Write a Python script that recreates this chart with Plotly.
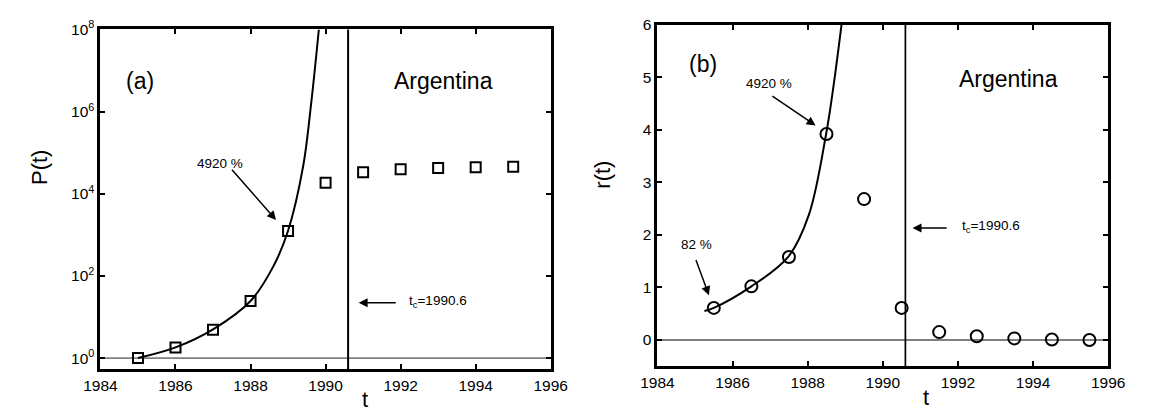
import plotly.graph_objects as go

# ---------------- data ----------------
p_years = [1985, 1986, 1987, 1988, 1989, 1990, 1991, 1992, 1993, 1994, 1995]
p_values = [1.0, 1.82, 4.9, 24.5, 1250, 18500, 33500, 39500, 42500, 44500, 45500]

# fitted curve for panel (a) (log10 P)
pfit_years = [1985.0, 1986.0, 1987.0, 1988.0, 1988.6, 1989.0, 1989.4, 1989.62, 1989.82]
pfit_log = [0.0, 0.26, 0.70, 1.39, 2.22, 3.10, 4.66, 6.24, 8.0]

r_years = [1985.5, 1986.5, 1987.5, 1988.5, 1989.5, 1990.5, 1991.5, 1992.5, 1993.5, 1994.5, 1995.5]
r_values = [0.61, 1.02, 1.58, 3.92, 2.68, 0.61, 0.15, 0.07, 0.03, 0.01, 0.0]

# fitted curve for panel (b)
rfit_years = [1985.25, 1985.5, 1986.5, 1987.48, 1988.03, 1988.49, 1988.69, 1988.9]
rfit_values = [0.55, 0.61, 1.02, 1.58, 2.38, 3.92, 4.85, 6.0]

t_c = 1990.6
x_ticks = [1984, 1986, 1988, 1990, 1992, 1994, 1996]
p_tickvals = [1, 1e2, 1e4, 1e6, 1e8]
p_ticktext = ["10<sup>0</sup>", "10<sup>2</sup>", "10<sup>4</sup>", "10<sup>6</sup>", "10<sup>8</sup>"]
r_ticks = [0, 1, 2, 3, 4, 5, 6]

# ---------------- figure ----------------
FONT = "Liberation Sans, Arial, sans-serif"
W, H = 1149, 412

fig = go.Figure()

# panel (a)
fig.add_trace(go.Scatter(x=[1984, 1996], y=[1, 1], mode="lines",
                         line=dict(color="#808080", width=1.8),
                         xaxis="x", yaxis="y", showlegend=False))
fig.add_trace(go.Scatter(x=pfit_years, y=[10 ** v for v in pfit_log], mode="lines",
                         line=dict(color="black", width=2, shape="spline", smoothing=1.0),
                         xaxis="x", yaxis="y", showlegend=False))
fig.add_trace(go.Scatter(x=p_years, y=p_values, mode="markers",
                         marker=dict(symbol="square-open", size=10, color="black",
                                     line=dict(width=2, color="black")),
                         xaxis="x", yaxis="y", showlegend=False))

# panel (b)
fig.add_trace(go.Scatter(x=[1984, 1996], y=[0, 0], mode="lines",
                         line=dict(color="black", width=1.2),
                         xaxis="x2", yaxis="y2", showlegend=False))
fig.add_trace(go.Scatter(x=rfit_years, y=rfit_values, mode="lines",
                         line=dict(color="black", width=2, shape="spline", smoothing=1.0),
                         xaxis="x2", yaxis="y2", showlegend=False))
fig.add_trace(go.Scatter(x=r_years, y=r_values, mode="markers",
                         marker=dict(symbol="circle-open", size=12, color="black",
                                     line=dict(width=2, color="black")),
                         xaxis="x2", yaxis="y2", showlegend=False))

# vertical lines at t_c
fig.add_shape(type="line", xref="x", yref="paper", x0=t_c, x1=t_c,
              y0=1 - 368 / H, y1=1 - 19 / H, line=dict(color="black", width=2))
fig.add_shape(type="line", xref="x2", yref="paper", x0=t_c, x1=t_c,
              y0=1 - 365 / H, y1=1 - 14 / H, line=dict(color="black", width=1.7))

axis_common = dict(showline=True, linecolor="black", linewidth=3, mirror="ticks",
                   ticks="inside", ticklen=5, tickwidth=1.5, tickcolor="black",
                   showgrid=False, zeroline=False,
                   tickfont=dict(family=FONT, size=15.5, color="black"))

fig.update_layout(
    width=W, height=H,
    margin=dict(l=0, r=0, t=0, b=0),
    paper_bgcolor="white", plot_bgcolor="white",
    showlegend=False,
    xaxis=dict(domain=[86 / W, 550 / W], range=[1984, 1996], tickvals=x_ticks,
               anchor="y", **axis_common),
    yaxis=dict(domain=[1 - 368 / H, 1 - 19 / H], type="log", range=[-0.27, 8],
               tickvals=p_tickvals, ticktext=p_ticktext, anchor="x", **axis_common),
    xaxis2=dict(domain=[660 / W, 1124.5 / W], range=[1984, 1996], tickvals=x_ticks,
                anchor="y2", **axis_common),
    yaxis2=dict(domain=[1 - 365 / H, 1 - 14 / H], range=[-0.5, 6], tickvals=r_ticks,
                anchor="x2", **axis_common),
)

ann = []
def text(x, y, s, size, xref="x", yref="y", xanchor="center", angle=0):
    ann.append(dict(x=x, y=y, xref=xref, yref=yref, text=s, showarrow=False,
                    xanchor=xanchor, yanchor="middle", textangle=angle,
                    font=dict(family=FONT, size=size, color="black")))

def arrow(x_tail, y_tail, x_head, y_head, xref, yref):
    ann.append(dict(x=x_head, y=y_head, ax=x_tail, ay=y_tail, xref=xref, yref=yref,
                    axref=xref, ayref=yref, text="", showarrow=True, arrowhead=2,
                    arrowsize=1.2, arrowwidth=1.5, arrowcolor="black"))

# panel (a) annotations (y in log10 units)
text(1985.06, 6.75, "(a)", 23)
text(1993.15, 6.75, "Argentina", 23)
text(1987.18, 4.73, "4920 %", 13.5)
arrow(1987.47, 4.62, 1988.68, 3.36, "x", "y")
arrow(1991.91, 1.35, 1990.88, 1.35, "x", "y")
text(1992.17, 1.37, "t<sub>c</sub>=1990.6", 13.5, xanchor="left")

# panel (b) annotations
text(1985.21, 5.25, "(b)", 23, "x2", "y2")
text(1993.34, 4.97, "Argentina", 23, "x2", "y2")
text(1986.97, 4.88, "4920 %", 13.5, "x2", "y2")
arrow(1987.02, 4.66, 1988.21, 4.08, "x2", "y2")
text(1985.03, 1.81, "82 %", 13.5, "x2", "y2")
arrow(1985.01, 1.55, 1985.37, 0.85, "x2", "y2")
arrow(1991.74, 2.13, 1990.79, 2.13, "x2", "y2")
text(1992.05, 2.15, "t<sub>c</sub>=1990.6", 13.5, "x2", "y2", xanchor="left")

# axis titles
text(23 / W, 1 - 161 / H, "P(t)", 22, "paper", "paper", angle=-90)
text(603 / W, 1 - 168 / H, "r(t)", 22, "paper", "paper", angle=-90)
text(359 / W, 1 - 399 / H, "t", 22, "paper", "paper")
text(937 / W, 1 - 397 / H, "t", 22, "paper", "paper")

fig.update_layout(annotations=ann)
fig.write_html("out.html")
